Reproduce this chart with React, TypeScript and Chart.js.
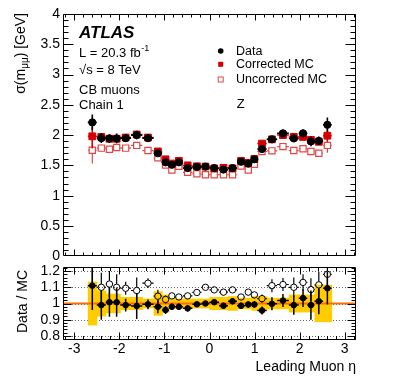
import React, { useEffect, useRef } from "react";
import { Chart, registerables } from "chart.js";

Chart.register(...registerables);

const FONT = "'Liberation Sans', Arial, Helvetica, sans-serif";
Chart.defaults.font.family = FONT;
Chart.defaults.color = "#000";

// ---------------- data ----------------
const etaBinEdges = [
  -2.7, -2.5, -2.3, -2.14, -1.98, -1.74, -1.49, -1.24, -1.05, -0.9, -0.77, -0.59, -0.38, -0.18, 0,
  0.21, 0.41, 0.61, 0.79, 0.93, 1.06, 1.27, 1.5, 1.76, 1.98, 2.17, 2.33, 2.52, 2.71,
];

const dataSigma = [
  2.21, 1.95, 1.945, 1.945, 1.95, 2.0, 1.95, 1.7, 1.55, 1.51, 1.55, 1.455, 1.475, 1.48,
  1.455, 1.43, 1.455, 1.56, 1.53, 1.6, 1.77, 1.93, 2.03, 1.945, 2.03, 1.895, 1.905, 2.17,
];
const dataSigmaErr = [
  0.13, 0.08, 0.07, 0.08, 0.03, 0.07, 0.03, 0.04, 0.03, 0.03, 0.03, 0.02, 0.02, 0.02,
  0.02, 0.02, 0.02, 0.03, 0.03, 0.03, 0.03, 0.04, 0.06, 0.05, 0.06, 0.08, 0.07, 0.12,
];
const correctedMC = [
  1.98, 1.97, 1.94, 1.94, 1.96, 2.01, 1.96, 1.73, 1.6, 1.53, 1.575, 1.5, 1.485, 1.48,
  1.45, 1.46, 1.45, 1.575, 1.54, 1.605, 1.86, 1.93, 2.0, 1.97, 1.97, 1.92, 1.89, 1.99,
];
const correctedMCErr = [
  0.2, 0.06, 0.06, 0.05, 0.03, 0.03, 0.02, 0.02, 0.02, 0.02, 0.02, 0.015, 0.015, 0.015,
  0.015, 0.015, 0.015, 0.02, 0.02, 0.02, 0.02, 0.02, 0.03, 0.03, 0.03, 0.04, 0.05, 0.1,
];
const uncorrectedMC = [
  1.75, 1.785, 1.765, 1.795, 1.785, 1.83, 1.745, 1.625, 1.505, 1.425, 1.485, 1.385, 1.36, 1.345,
  1.345, 1.345, 1.345, 1.49, 1.425, 1.52, 1.73, 1.74, 1.81, 1.745, 1.775, 1.73, 1.7, 1.83,
];
const uncorrectedMCErr = [
  0.22, 0.06, 0.05, 0.05, 0.03, 0.03, 0.02, 0.02, 0.02, 0.02, 0.02, 0.015, 0.015, 0.015,
  0.015, 0.015, 0.015, 0.02, 0.02, 0.02, 0.02, 0.02, 0.03, 0.03, 0.03, 0.04, 0.05, 0.12,
];

const ratioCorrected = [
  1.11, 0.99, 1.008, 1.008, 0.99, 0.985, 0.995, 0.98, 0.96, 0.98, 0.98, 0.97, 0.995, 1.0,
  1.008, 0.986, 1.014, 0.986, 0.994, 0.994, 0.957, 0.998, 1.018, 0.99, 1.033, 0.99, 1.014, 1.094,
];
const ratioCorrectedErr = [
  0.15, 0.09, 0.09, 0.09, 0.04, 0.08, 0.03, 0.04, 0.025, 0.02, 0.02, 0.02, 0.015, 0.015,
  0.015, 0.02, 0.02, 0.02, 0.02, 0.02, 0.025, 0.04, 0.04, 0.06, 0.055, 0.09, 0.08, 0.1,
];
const ratioUncorrected = [
  1.27, 1.1, 1.12, 1.1, 1.094, 1.08, 1.125, 1.045, 1.025, 1.047, 1.04, 1.047, 1.068, 1.1,
  1.084, 1.07, 1.084, 1.04, 1.07, 1.053, 1.03, 1.11, 1.117, 1.1, 1.13, 1.086, 1.115, 1.18,
];
const ratioUncorrectedErr = [
  0.15, 0.09, 0.08, 0.08, 0.04, 0.08, 0.03, 0.04, 0.025, 0.02, 0.02, 0.02, 0.015, 0.015,
  0.015, 0.02, 0.02, 0.02, 0.02, 0.02, 0.025, 0.04, 0.04, 0.06, 0.05, 0.07, 0.08, 0.1,
];
const mcBandHalf = [
  0.135, 0.08, 0.06, 0.06, 0.04, 0.04, 0.03, 0.075, 0.055, 0.03, 0.03, 0.03, 0.03, 0.03,
  0.04, 0.04, 0.045, 0.035, 0.035, 0.045, 0.045, 0.035, 0.035, 0.055, 0.055, 0.055, 0.115, 0.115,
];

const xTickValues = [-3, -2, -1, 0, 1, 2, 3];
const yTickValuesTop = [0, 0.5, 1, 1.5, 2, 2.5, 3, 3.5, 4];
const yTickValuesRatio = [0.8, 0.9, 1, 1.1, 1.2];

// ---------------- helpers ----------------
type Pt = { x: number; y: number; xlo: number; xhi: number; ey: number };

function makePoints(vals: number[], errs: number[]): Pt[] {
  return vals.map((y, i) => ({
    x: (etaBinEdges[i] + etaBinEdges[i + 1]) / 2,
    y,
    xlo: etaBinEdges[i],
    xhi: etaBinEdges[i + 1],
    ey: errs[i],
  }));
}

const fmt = (v: any) => String(Math.round(Number(v) * 100) / 100);

function range(from: number, to: number, step: number): number[] {
  const out: number[] = [];
  const n = Math.round((to - from) / step);
  for (let i = 0; i <= n; i++) out.push(Math.round((from + i * step) * 1000) / 1000);
  return out;
}

const errorBarPlugin = {
  id: "errorBars",
  beforeDatasetDraw(chart: any, args: any) {
    const ds = chart.data.datasets[args.index];
    if (!ds.errColor) return;
    const gap = ds.errGap || 0;
    const { ctx, chartArea: a, scales } = chart;
    const xs = scales.x;
    const ys = scales.y;
    ctx.save();
    ctx.beginPath();
    ctx.rect(a.left, a.top, a.right - a.left, a.bottom - a.top);
    ctx.clip();
    ctx.strokeStyle = ds.errColor;
    ctx.lineWidth = ds.errWidth;
    ctx.beginPath();
    for (const p of ds.data as Pt[]) {
      const px = xs.getPixelForValue(p.x);
      const py = ys.getPixelForValue(p.y);
      const xl = xs.getPixelForValue(p.xlo);
      const xr = xs.getPixelForValue(p.xhi);
      const yt = ys.getPixelForValue(p.y + p.ey);
      const yb = ys.getPixelForValue(p.y - p.ey);
      if (gap > 0) {
        if (px - gap > xl) {
          ctx.moveTo(xl, py);
          ctx.lineTo(px - gap, py);
        }
        if (px + gap < xr) {
          ctx.moveTo(px + gap, py);
          ctx.lineTo(xr, py);
        }
        if (py - gap > yt) {
          ctx.moveTo(px, yt);
          ctx.lineTo(px, py - gap);
        }
        if (py + gap < yb) {
          ctx.moveTo(px, py + gap);
          ctx.lineTo(px, yb);
        }
      } else {
        ctx.moveTo(xl, py);
        ctx.lineTo(xr, py);
        ctx.moveTo(px, yt);
        ctx.lineTo(px, yb);
      }
    }
    ctx.stroke();
    ctx.restore();
  },
};

const bandPlugin = {
  id: "mcBand",
  beforeDatasetsDraw(chart: any) {
    const { ctx, chartArea: a, scales } = chart;
    const xs = scales.x;
    const ys = scales.y;
    ctx.save();
    ctx.beginPath();
    ctx.rect(a.left, a.top, a.right - a.left, a.bottom - a.top);
    ctx.clip();
    // dotted reference lines
    ctx.strokeStyle = "#666";
    ctx.lineWidth = 1;
    ctx.setLineDash([1, 2]);
    ctx.beginPath();
    yTickValuesRatio.forEach((v) => {
      const py = Math.round(ys.getPixelForValue(v)) + 0.5;
      ctx.moveTo(a.left, py);
      ctx.lineTo(a.right, py);
    });
    ctx.stroke();
    ctx.setLineDash([]);
    ctx.fillStyle = "#ffcc00";
    mcBandHalf.forEach((h, i) => {
      const x0 = xs.getPixelForValue(etaBinEdges[i]);
      const x1 = xs.getPixelForValue(etaBinEdges[i + 1]);
      const y0 = ys.getPixelForValue(1 + h);
      const y1 = ys.getPixelForValue(1 - h);
      ctx.fillRect(x0, y0, x1 - x0 + 0.5, y1 - y0);
    });
    ctx.restore();
  },
};

function makeFramePlugin(cfg: {
  xMajor: number[];
  xMinor: number[];
  yMajor: number[];
  yMinor: number[];
  xLen: [number, number];
  yLen: [number, number];
}) {
  return {
    id: "frame",
    afterDraw(chart: any) {
      const { ctx, chartArea: a, scales } = chart;
      const xs = scales.x;
      const ys = scales.y;
      ctx.save();
      ctx.strokeStyle = "#000";
      ctx.lineWidth = 1;
      ctx.beginPath();
      const L = Math.round(a.left) + 0.5;
      const R = Math.round(a.right) - 0.5;
      const T = Math.round(a.top) + 0.5;
      const B = Math.round(a.bottom) - 0.5;
      ctx.rect(L, T, R - L, B - T);
      const xt = (vals: number[], len: number) => {
        vals.forEach((v) => {
          const px = Math.round(xs.getPixelForValue(v)) + 0.5;
          if (px < L || px > R) return;
          ctx.moveTo(px, B);
          ctx.lineTo(px, B - len);
          ctx.moveTo(px, T);
          ctx.lineTo(px, T + len);
        });
      };
      const yt = (vals: number[], len: number) => {
        vals.forEach((v) => {
          const py = Math.round(ys.getPixelForValue(v)) + 0.5;
          if (py < T || py > B) return;
          ctx.moveTo(L, py);
          ctx.lineTo(L + len, py);
          ctx.moveTo(R, py);
          ctx.lineTo(R - len, py);
        });
      };
      xt(cfg.xMajor, cfg.xLen[0]);
      xt(cfg.xMinor, cfg.xLen[1]);
      yt(cfg.yMajor, cfg.yLen[0]);
      yt(cfg.yMinor, cfg.yLen[1]);
      ctx.stroke();
      ctx.restore();
    },
  };
}

const topTextPlugin = {
  id: "topText",
  afterDraw(chart: any) {
    const ctx = chart.ctx as CanvasRenderingContext2D;
    ctx.save();
    ctx.fillStyle = "#000";
    ctx.textAlign = "left";
    ctx.textBaseline = "alphabetic";
    ctx.font = `italic bold 17px ${FONT}`;
    ctx.fillText("ATLAS", 79, 37.7);
    ctx.font = `13px ${FONT}`;
    const lumi = "L = 20.3 fb";
    ctx.fillText(lumi, 79, 56.7);
    const lw = ctx.measureText(lumi).width;
    ctx.font = `9px ${FONT}`;
    ctx.fillText("-1", 79 + lw + 0.5, 51);
    ctx.font = `13px ${FONT}`;
    ctx.fillText("√s = 8 TeV", 79, 74);
    ctx.fillText("CB muons", 79, 94);
    ctx.fillText("Chain 1", 79, 109);
    ctx.fillText("Z", 236.7, 108.3);

    // legend
    ctx.font = `12.5px ${FONT}`;
    ctx.fillText("Data", 236, 55);
    ctx.fillText("Corrected MC", 236, 68.3);
    ctx.fillText("Uncorrected MC", 236, 83.3);
    ctx.beginPath();
    ctx.arc(220.7, 51, 2.8, 0, Math.PI * 2);
    ctx.fill();
    ctx.fillStyle = "#d40000";
    ctx.fillRect(218.2, 61.8, 5, 5);
    ctx.strokeStyle = "#e04848";
    ctx.lineWidth = 1;
    ctx.strokeRect(218.2, 77, 5, 5);

    // y axis title, rotated
    ctx.fillStyle = "#000";
    ctx.translate(25, 13);
    ctx.rotate(-Math.PI / 2);
    const a = "σ(m";
    const b = "μμ";
    const c = ") [GeV]";
    ctx.font = `14px ${FONT}`;
    const wa = ctx.measureText(a).width;
    const wc = ctx.measureText(c).width;
    ctx.font = `10px ${FONT}`;
    const wb = ctx.measureText(b).width;
    const W = wa + wb + wc;
    ctx.font = `14px ${FONT}`;
    ctx.fillText(a, -W, 0);
    ctx.font = `10px ${FONT}`;
    ctx.fillText(b, -W + wa, 3);
    ctx.font = `14px ${FONT}`;
    ctx.fillText(c, -W + wa + wb, 0);
    ctx.restore();
  },
};

const bottomTextPlugin = {
  id: "bottomText",
  afterDraw(chart: any) {
    const ctx = chart.ctx as CanvasRenderingContext2D;
    ctx.save();
    ctx.fillStyle = "#000";
    ctx.font = `14px ${FONT}`;
    ctx.textAlign = "right";
    ctx.textBaseline = "alphabetic";
    ctx.fillText("Leading Muon η", 356, 109);
    ctx.translate(26.5, 8);
    ctx.rotate(-Math.PI / 2);
    ctx.fillText("Data / MC", 0, 0);
    ctx.restore();
  },
};

export default function App() {
  const topRef = useRef<HTMLCanvasElement>(null);
  const botRef = useRef<HTMLCanvasElement>(null);

  useEffect(() => {
    const xMinor = range(-3.2, 3.2, 0.2).filter((v) => !xTickValues.includes(v));

    const top = new Chart(topRef.current as HTMLCanvasElement, {
      type: "scatter",
      data: {
        datasets: [
          {
            label: "Data",
            data: makePoints(dataSigma, dataSigmaErr),
            pointStyle: "circle",
            pointRadius: 3.6,
            backgroundColor: "#000",
            borderColor: "#000",
            borderWidth: 1,
            errColor: "#000",
            errWidth: 1.6,
          } as any,
          {
            label: "Corrected MC",
            data: makePoints(correctedMC, correctedMCErr),
            pointStyle: "rect",
            pointRadius: 4.8,
            backgroundColor: "#d40000",
            borderColor: "#d40000",
            borderWidth: 1,
            errColor: "#d40000",
            errWidth: 1.5,
          } as any,
          {
            label: "Uncorrected MC",
            data: makePoints(uncorrectedMC, uncorrectedMCErr),
            pointStyle: "rect",
            pointRadius: 4.4,
            backgroundColor: "rgba(255,255,255,0)",
            borderColor: "#e04848",
            borderWidth: 1.2,
            errColor: "#e04848",
            errWidth: 1.2,
            errGap: 3.2,
          } as any,
        ],
      },
      options: {
        responsive: false,
        animation: false,
        events: [],
        layout: { padding: { left: 0, right: 40, top: 14, bottom: 5 } },
        plugins: { legend: { display: false }, tooltip: { enabled: false } },
        scales: {
          x: { type: "linear", min: -3.25, max: 3.25, display: false },
          y: {
            type: "linear",
            min: 0,
            max: 4,
            afterBuildTicks: (s: any) => {
              s.ticks = yTickValuesTop.map((v) => ({ value: v }));
            },
            afterFit: (s: any) => {
              s.width = 63;
              s.paddingTop = 0;
              s.paddingBottom = 0;
            },
            ticks: { font: { size: 14, family: FONT }, color: "#000", padding: 3, autoSkip: false, callback: fmt },
            grid: { display: false, drawTicks: false },
            border: { display: false },
          },
        },
      } as any,
      plugins: [
        errorBarPlugin,
        makeFramePlugin({
          xMajor: xTickValues,
          xMinor,
          yMajor: yTickValuesTop,
          yMinor: range(0.1, 3.9, 0.1).filter((v) => !yTickValuesTop.includes(v)),
          xLen: [6, 3],
          yLen: [10, 5],
        }),
        topTextPlugin,
      ],
    });

    const bot = new Chart(botRef.current as HTMLCanvasElement, {
      type: "scatter",
      data: {
        datasets: [
          {
            label: "Data / Corrected MC",
            data: makePoints(ratioCorrected, ratioCorrectedErr),
            pointStyle: "circle",
            pointRadius: 2.8,
            backgroundColor: "#000",
            borderColor: "#000",
            borderWidth: 1,
            clip: 0,
            errColor: "#000",
            errWidth: 1.5,
          } as any,
          {
            label: "Data / Uncorrected MC",
            data: makePoints(ratioUncorrected, ratioUncorrectedErr),
            pointStyle: "circle",
            pointRadius: 3.2,
            backgroundColor: "rgba(255,255,255,0)",
            borderColor: "#000",
            borderWidth: 1,
            clip: 0,
            errColor: "#000",
            errWidth: 1.2,
            errGap: 3.2,
          } as any,
          {
            label: "unity",
            data: [
              { x: -3.25, y: 1 },
              { x: 3.25, y: 1 },
            ],
            showLine: true,
            pointRadius: 0,
            borderColor: "#ff6c00",
            borderWidth: 2,
            clip: 0,
          } as any,
        ],
      },
      options: {
        responsive: false,
        animation: false,
        events: [],
        layout: { padding: { left: 0, right: 40, top: 4, bottom: 0 } },
        plugins: { legend: { display: false }, tooltip: { enabled: false } },
        scales: {
          x: {
            type: "linear",
            min: -3.25,
            max: 3.25,
            afterBuildTicks: (s: any) => {
              s.ticks = xTickValues.map((v) => ({ value: v }));
            },
            afterFit: (s: any) => {
              s.height = 40;
              s.paddingLeft = 0;
              s.paddingRight = 0;
            },
            ticks: {
              font: { size: 14, family: FONT },
              color: "#000",
              padding: 1,
              maxRotation: 0,
              autoSkip: false,
              callback: fmt,
            },
            grid: { display: false, drawTicks: false },
            border: { display: false },
          },
          y: {
            type: "linear",
            min: 0.775,
            max: 1.225,
            afterBuildTicks: (s: any) => {
              s.ticks = yTickValuesRatio.map((v) => ({ value: v }));
            },
            afterFit: (s: any) => {
              s.width = 63;
              s.paddingTop = 0;
              s.paddingBottom = 0;
            },
            ticks: { font: { size: 14, family: FONT }, color: "#000", padding: 3, autoSkip: false, callback: fmt },
            grid: { display: false, drawTicks: false },
            border: { display: false },
          },
        },
      } as any,
      plugins: [
        bandPlugin,
        errorBarPlugin,
        makeFramePlugin({
          xMajor: xTickValues,
          xMinor,
          yMajor: yTickValuesRatio,
          yMinor: range(0.78, 1.22, 0.02).filter((v) => !yTickValuesRatio.some((t) => Math.abs(t - v) < 1e-6)),
          xLen: [7, 3.5],
          yLen: [8, 4],
        }),
        bottomTextPlugin,
      ],
    });

    return () => {
      top.destroy();
      bot.destroy();
    };
  }, []);

  return (
    <div style={{ position: "absolute", left: 0, top: 0, width: 396, height: 380, background: "#fff" }}>
      <canvas ref={topRef} width={396} height={262} style={{ position: "absolute", left: 0, top: 0 }} />
      <canvas ref={botRef} width={396} height={118} style={{ position: "absolute", left: 0, top: 262 }} />
    </div>
  );
}
